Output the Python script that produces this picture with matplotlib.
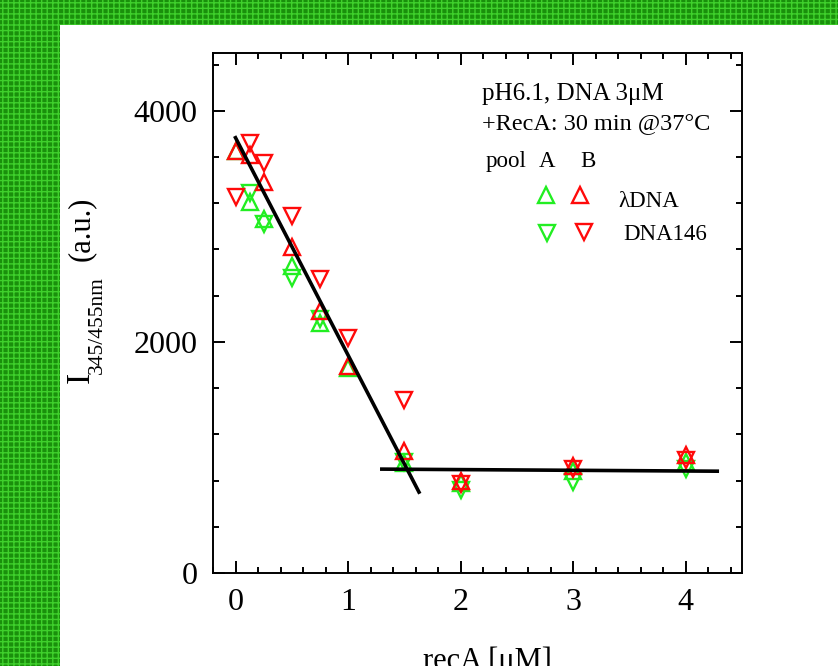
import matplotlib
matplotlib.use("Agg")
import matplotlib.pyplot as plt
from matplotlib.patches import Rectangle

plt.rcParams['font.family'] = ['Liberation Serif', 'DejaVu Serif']
plt.rcParams['hatch.linewidth'] = 1.0

# ---- data ----
x_all = [0, 0.125, 0.25, 0.5, 0.75, 1.0, 1.5, 2, 3, 4]
b_lambda = [3650, 3620, 3380, 2820, 2270, 1790, 1060, 800, 930, 1020]   # pool B, lambda DNA (red up)
b_dna146 = [3250, 3720, 3550, 3090, 2540, 2030, 1500, 770, 900, 980]    # pool B, DNA146 (red down)
a_lambda = [3650, 3210, 3060, 2660, 2160, 1770, 950, 780, 880, 960]     # pool A, lambda DNA (green up)
x_a146 = [0.125, 0.25, 0.5, 0.75, 1.5, 2, 3, 4]
a_dna146 = [3285, 3020, 2550, 2200, 960, 720, 790, 900]                 # pool A, DNA146 (green down)

fit1_x = [0.0, 1.63]
fit1_y = [3767, 700]
fit2_x = [1.30, 4.28]
fit2_y = [899, 881]

xticks = [0, 1, 2, 3, 4]
yticks = [0, 2000, 4000]

GREEN = '#22ee22'
RED = '#ff0a0a'

W, H = 838, 666
fig = plt.figure(figsize=(W / 100, H / 100), dpi=100)

# textured green border
for rect in [(0, 0, 60 / W, 1), (0, 1 - 25 / H, 1, 25 / H)]:
    fig.patches.append(Rectangle(rect[:2], rect[2], rect[3], transform=fig.transFigure,
                                 facecolor='#1a900c', edgecolor='#3fd02c', hatch='+++',
                                 lw=0, zorder=-5))

ax = fig.add_axes([213 / W, 1 - 573 / H, (742 - 213) / W, (573 - 53) / H])

ms = 12
mew = 1.7
ax.plot(x_all, a_lambda, ls='none', marker='^', ms=ms, mfc='none', mec=GREEN, mew=mew, zorder=3)
ax.plot(x_a146, a_dna146, ls='none', marker='v', ms=ms, mfc='none', mec=GREEN, mew=mew, zorder=3)
ax.plot(x_all, b_lambda, ls='none', marker='^', ms=ms, mfc='none', mec=RED, mew=mew, zorder=4)
ax.plot(x_all, b_dna146, ls='none', marker='v', ms=ms, mfc='none', mec=RED, mew=mew, zorder=4)

ax.plot(fit1_x, fit1_y, color='black', lw=2.6, zorder=5)
ax.plot(fit2_x, fit2_y, color='black', lw=2.6, zorder=5)

ax.set_xlim(-0.2, 4.5)
ax.set_ylim(0, 4500)
ax.set_xticks(xticks)
ax.set_yticks(yticks)
ax.set_xticks([v / 5 for v in range(-1, 23)], minor=True)
ax.set_yticks(list(range(0, 4501, 400)), minor=True)
ax.tick_params(which='both', direction='in', top=True, right=True, width=1.4, labelsize=23, pad=11)
ax.tick_params(which='major', length=8.5)
ax.tick_params(which='minor', length=4)
for s in ax.spines.values():
    s.set_linewidth(1.4)

# annotation block
def ax_frac(px, py):
    return ((px - 213) / (742 - 213), (573 - py) / (573 - 53))

for txt, (px, py), fs in [("pH6.1, DNA 3\u03bcM", (482, 100), 18),
                          ("+RecA: 30 min @37\u00b0C", (482, 130), 17.5),
                          ("pool", (486, 167), 16.5),
                          ("A", (539, 167), 16.5),
                          ("B", (580, 167), 16.5),
                          ("\u03bbDNA", (618, 207), 16.5),
                          ("DNA146", (623, 240), 16.5)]:
    fx, fy = ax_frac(px, py)
    ax.text(fx, fy, txt, transform=ax.transAxes, fontsize=fs, ha='left', va='baseline')

for (px, py), m, c in [((546, 195), '^', GREEN), ((580, 195), '^', RED),
                       ((547, 233), 'v', GREEN), ((584, 232), 'v', RED)]:
    fx, fy = ax_frac(px, py)
    ax.plot([fx], [fy], transform=ax.transAxes, marker=m, ms=ms, mfc='none', mec=c, mew=mew,
            ls='none', clip_on=False)

# y label built from pieces (main letter, subscript, unit)
def ftxt(px, py, s, fs):
    fig.text(px / W, 1 - py / H, s, rotation=90, rotation_mode='anchor',
             ha='left', va='baseline', fontsize=fs)

ftxt(89, 383, 'I', 24)
ftxt(102, 374, '345/455nm', 15.5)
ftxt(89, 261, '(a.u.)', 22)

fig.text(487 / W, 1 - 669 / H, 'recA [\u03bcM]', fontsize=22, ha='center', va='baseline')

fig.savefig('out.png', dpi=100)
